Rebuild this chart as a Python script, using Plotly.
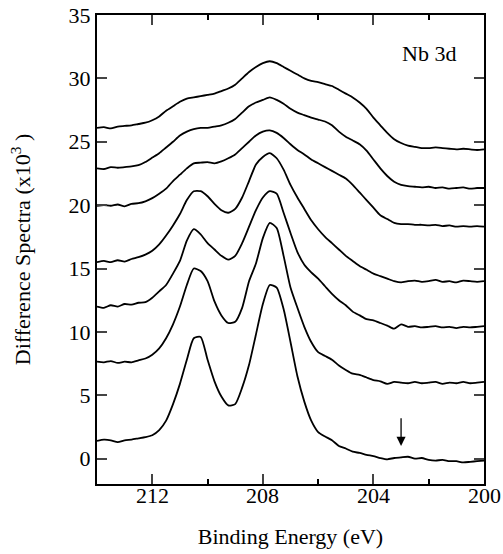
import plotly.graph_objects as go

energy = [214.0, 213.75, 213.5, 213.25, 213.0, 212.75, 212.5, 212.25, 212.0, 211.75,
          211.5, 211.25, 211.0, 210.75, 210.5, 210.25, 210.0, 209.75, 209.5, 209.25,
          209.0, 208.75, 208.5, 208.25, 208.0, 207.75, 207.5, 207.25, 207.0, 206.75,
          206.5, 206.25, 206.0, 205.75, 205.5, 205.25, 205.0, 204.75, 204.5, 204.25,
          204.0, 203.75, 203.5, 203.25, 203.0, 202.75, 202.5, 202.25, 202.0, 201.75,
          201.5, 201.25, 201.0, 200.75, 200.5, 200.25, 200.0]

spec1 = [1.40, 1.50, 1.45, 1.30, 1.45, 1.50, 1.60, 1.70, 1.85, 2.25,
         3.00, 4.30, 5.90, 7.80, 9.50, 9.60, 7.80, 6.10, 4.90, 4.20,
         4.30, 5.60, 7.40, 9.80, 12.20, 13.70, 13.50, 11.80, 9.20, 6.50,
         4.50, 3.00, 2.10, 1.75, 1.45, 1.00, 0.80, 0.55, 0.45, 0.30,
         0.20, 0.05, -0.05, 0.05, 0.10, 0.15, 0.00, 0.05, -0.10, -0.15,
         -0.10, -0.20, -0.20, -0.30, -0.25, -0.20, -0.15]
spec2 = [7.65, 7.60, 7.70, 7.55, 7.65, 7.60, 7.75, 7.90, 8.20, 8.70,
         9.50, 10.60, 12.00, 13.70, 15.00, 14.80, 14.00, 12.40, 11.30, 10.70,
         10.80, 11.90, 14.00, 15.40, 17.40, 18.60, 18.20, 16.00, 13.50, 11.90,
         10.40, 9.20, 8.40, 8.10, 7.80, 7.35, 7.00, 6.70, 6.60, 6.40,
         6.20, 6.10, 5.90, 6.05, 6.00, 5.95, 6.05, 5.95, 6.00, 6.05,
         5.90, 6.00, 5.95, 6.05, 5.95, 6.00, 6.05]
spec3 = [12.00, 11.90, 12.10, 12.00, 12.20, 12.15, 12.30, 12.35, 12.70, 13.20,
         13.70, 14.60, 15.60, 17.20, 18.10, 17.70, 17.00, 16.50, 16.00, 15.70,
         16.00, 17.00, 18.30, 19.60, 20.60, 21.10, 20.90, 19.40, 17.80, 16.30,
         15.30, 14.70, 14.20, 13.60, 13.00, 12.50, 12.10, 11.60, 11.30, 11.00,
         10.90, 10.70, 10.50, 10.25, 10.60, 10.40, 10.45, 10.35, 10.40, 10.45,
         10.35, 10.40, 10.30, 10.40, 10.35, 10.40, 10.45]
spec4 = [15.50, 15.60, 15.50, 15.65, 15.55, 15.75, 15.90, 16.10, 16.40, 16.90,
         17.60, 18.40, 19.30, 20.40, 21.10, 21.10, 20.70, 20.10, 19.60, 19.40,
         19.70, 20.60, 21.90, 23.20, 23.80, 24.10, 23.70, 22.80, 21.60, 20.60,
         19.70, 18.80, 18.10, 17.50, 17.00, 16.50, 16.00, 15.60, 15.20, 14.90,
         14.60, 14.40, 14.20, 14.00, 13.90, 14.00, 14.05, 13.95, 14.00, 14.10,
         13.95, 14.00, 13.90, 14.05, 14.00, 13.95, 14.00]
spec5 = [19.95, 20.00, 19.95, 20.05, 19.90, 20.10, 20.15, 20.30, 20.55, 20.90,
         21.30, 21.90, 22.40, 22.90, 23.30, 23.35, 23.40, 23.30, 23.45, 23.70,
         24.00, 24.50, 25.00, 25.50, 25.80, 25.90, 25.70, 25.30, 24.80, 24.35,
         24.00, 23.60, 23.30, 23.00, 22.70, 22.40, 22.10, 21.60, 21.00, 20.40,
         19.80, 19.20, 18.90, 18.60, 18.50, 18.50, 18.45, 18.45, 18.40, 18.45,
         18.35, 18.40, 18.30, 18.35, 18.30, 18.35, 18.30]
spec6 = [22.90, 22.85, 23.00, 22.95, 23.00, 23.05, 23.15, 23.40, 23.75, 24.10,
         24.55, 25.00, 25.50, 25.80, 26.00, 26.10, 26.10, 26.20, 26.30, 26.50,
         26.80, 27.30, 27.80, 28.10, 28.30, 28.50, 28.30, 28.00, 27.60, 27.30,
         27.10, 26.90, 26.75, 26.60, 26.30, 25.80, 25.40, 25.10, 24.80, 24.30,
         23.60, 22.90, 22.30, 21.85, 21.60, 21.50, 21.45, 21.40, 21.45, 21.35,
         21.40, 21.30, 21.35, 21.40, 21.30, 21.35, 21.35]
spec7 = [26.10, 26.15, 26.05, 26.20, 26.25, 26.30, 26.40, 26.50, 26.70, 27.00,
         27.45, 27.80, 28.15, 28.40, 28.50, 28.60, 28.70, 28.80, 29.00, 29.20,
         29.50, 30.00, 30.50, 30.90, 31.20, 31.35, 31.20, 30.90, 30.60, 30.30,
         30.00, 29.80, 29.70, 29.55, 29.40, 29.10, 28.80, 28.50, 28.10, 27.60,
         26.90, 26.30, 25.70, 25.20, 24.90, 24.70, 24.60, 24.50, 24.50, 24.55,
         24.50, 24.45, 24.40, 24.45, 24.40, 24.35, 24.40]

spectra = [spec1, spec2, spec3, spec4, spec5, spec6, spec7]

x_ticks = [212, 208, 204, 200]
x_minor = [214, 210, 206, 202]
y_ticks = [0, 5, 10, 15, 20, 25, 30, 35]

FONT = "Liberation Serif"

fig = go.Figure()
for s in spectra:
    fig.add_trace(go.Scatter(x=energy, y=s, mode="lines",
                             line=dict(color="black", width=1.8, shape="spline", smoothing=0.6),
                             showlegend=False, hoverinfo="skip"))

# x tick labels placed right under the axis
for t in x_ticks:
    fig.add_annotation(x=t, y=0, xref="x", yref="paper", yanchor="top",
                       text=str(t), showarrow=False, yshift=3,
                       font=dict(family=FONT, size=22, color="black"))

fig.add_annotation(x=202.0, y=32.0, text="Nb 3d", showarrow=False,
                   font=dict(family=FONT, size=22, color="black"))
fig.add_annotation(x=203.0, y=1.0, ax=203.0, ay=3.3, axref="x", ayref="y",
                   text="", showarrow=True, arrowhead=2, arrowsize=1.4,
                   arrowwidth=1.3, arrowcolor="black")

fig.update_layout(
    width=503, height=554,
    margin=dict(l=97, r=19, t=15, b=70, autoexpand=False),
    paper_bgcolor="white", plot_bgcolor="white",
    font=dict(family=FONT, size=22, color="black"),
)
fig.update_xaxes(
    range=[214, 200], tickvals=x_ticks, ticks="inside", ticklen=10, tickwidth=1.5,
    showline=True, linewidth=2, linecolor="black", mirror="ticks",
    showgrid=False, zeroline=False, automargin=False, showticklabels=False,
    minor=dict(tickvals=x_minor, ticks="inside", ticklen=5, tickwidth=1.5,
               tickcolor="black", showgrid=False),
    title=dict(text="Binding Energy (eV)", font=dict(family=FONT, size=22), standoff=44),
)
fig.update_yaxes(
    range=[-2, 35], tickvals=y_ticks, ticks="inside", ticklen=10, tickwidth=1.5,
    showline=True, linewidth=2, linecolor="black", mirror="ticks",
    showgrid=False, zeroline=False, automargin=False,
    tickfont=dict(family=FONT, size=22), ticklabelstandoff=0,
    title=dict(text="Difference Spectra (x10<sup>3</sup> )", font=dict(family=FONT, size=22),
               standoff=32),
)

fig.write_html("out.html")
